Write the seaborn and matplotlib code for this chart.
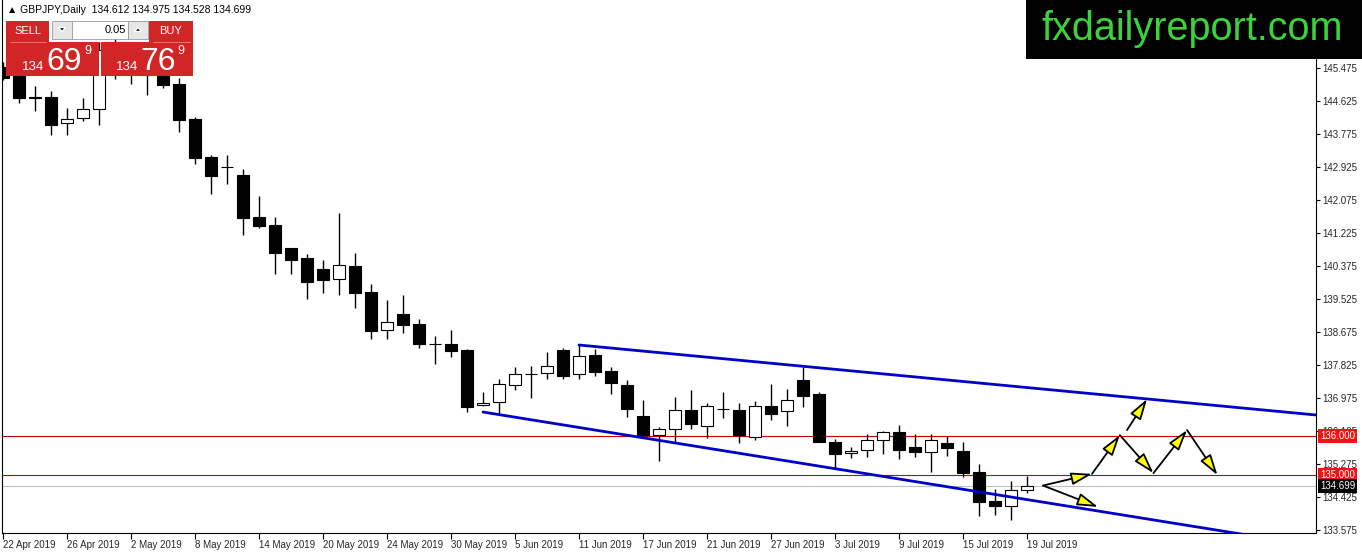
import matplotlib
matplotlib.use("Agg")
import matplotlib.pyplot as plt
import matplotlib.transforms as mtransforms
from matplotlib.patches import Rectangle, Polygon
import numpy as np
import pandas as pd
import seaborn as sns

# GBPJPY daily candles, 22 Apr - 19 Jul 2019
# (first bars are partly hidden under the trade panel, their tops are guessed)
opens = [145.501, 145.372, 144.740, 144.728, 144.058, 144.187, 144.419, 145.990, 145.400, 145.700,
         145.400, 145.063, 144.161, 143.183, 142.935, 142.719, 141.637, 141.431, 140.838, 140.581,
         140.297, 140.040, 140.375, 139.705, 138.726, 139.139, 138.881, 138.370, 138.366, 138.211,
         136.794, 136.872, 137.310, 137.600, 137.619, 138.211, 137.593, 138.082, 137.670, 137.310,
         136.511, 136.022, 136.176, 136.665, 136.253, 136.700, 136.665, 135.970, 136.768, 136.640,
         137.438, 137.078, 135.841, 135.558, 135.635, 135.893, 136.099, 135.712, 135.583, 135.815,
         135.609, 135.069, 134.322, 134.193, 134.612]
highs = [145.629, 145.526, 145.011, 144.883, 144.445, 144.702, 146.145, 146.248, 146.000, 145.950,
         145.550, 145.217, 144.213, 143.234, 143.234, 142.873, 142.178, 141.637, 140.850, 140.684,
         140.529, 141.740, 140.710, 139.911, 139.499, 139.628, 139.010, 138.572, 138.726, 138.237,
         137.129, 137.464, 137.773, 137.799, 138.160, 138.263, 138.340, 138.237, 137.773, 137.438,
         136.923, 136.230, 137.000, 137.181, 136.846, 137.129, 136.846, 136.897, 137.335, 137.207,
         137.773, 137.129, 135.918, 135.712, 136.048, 136.125, 136.280, 136.048, 136.048, 135.990,
         135.841, 135.275, 134.631, 134.837, 134.975]
lows = [145.166, 144.574, 144.367, 143.749, 143.749, 144.110, 144.007, 145.192, 145.063, 144.780,
        144.960, 143.826, 143.002, 142.230, 142.487, 141.173, 141.354, 140.169, 140.169, 139.525,
        139.679, 139.628, 139.293, 138.494, 138.494, 138.649, 138.263, 137.850, 138.031, 136.614,
        136.780, 136.562, 137.181, 136.975, 137.464, 137.464, 137.464, 137.541, 137.078, 136.485,
        135.944, 135.352, 135.815, 136.176, 135.944, 136.459, 135.815, 135.893, 136.408, 136.253,
        136.743, 135.841, 135.172, 135.429, 135.455, 135.532, 135.403, 135.455, 135.069, 135.480,
        134.940, 133.935, 133.961, 133.832, 134.528]
closes = [145.217, 144.702, 144.715, 144.007, 144.161, 144.419, 145.939, 145.526, 145.750, 145.300,
          145.037, 144.136, 143.157, 142.693, 142.915, 141.611, 141.405, 140.710, 140.529, 139.963,
          140.014, 140.400, 139.679, 138.700, 138.932, 138.855, 138.366, 138.360, 138.185, 136.743,
          136.846, 137.335, 137.593, 137.590, 137.799, 137.541, 138.057, 137.645, 137.361, 136.691,
          136.022, 136.176, 136.665, 136.305, 136.768, 136.685, 136.022, 136.768, 136.562, 136.923,
          137.026, 135.841, 135.532, 135.609, 135.893, 136.099, 135.635, 135.583, 135.893, 135.686,
          135.043, 134.296, 134.193, 134.605, 134.699]
dates = pd.bdate_range("2019-04-22", periods=len(opens))

price_ticks = [133.575, 134.425, 135.275, 136.125, 136.975, 137.825, 138.675, 139.525,
               140.375, 141.225, 142.075, 142.925, 143.775, 144.625, 145.475]

levels = [136.0, 135.0]
bid = 134.699

# channel anchors (bar, price)
upper_chan = [(36, 138.340), (82, 136.540)]
lower_chan = [(30, 136.614), (76.6, 133.523)]

# projected path arrows: (bar, price) -> (bar, price)
arrows = [
    ((65.0, 134.72), (68.06, 135.02)),
    ((65.0, 134.72), (68.44, 134.17)),
    ((68.06, 135.02), (69.8, 136.02)),
    ((70.25, 136.15), (71.5, 136.95)),
    ((69.8, 136.02), (71.9, 135.04)),
    ((71.9, 135.04), (74.0, 136.15)),
    ((74.0, 136.15), (75.9, 134.99)),
]

sns.set_style("white")
plt.rcParams['font.family'] = ['Liberation Sans', 'DejaVu Sans']

df = pd.DataFrame({"date": dates, "open": opens, "high": highs, "low": lows, "close": closes})
df["bar"] = np.arange(len(df))
up = df["close"] >= df["open"]
body_lo = df[["open", "close"]].min(axis=1)
body_h = (df["close"] - df["open"]).abs().clip(lower=0.004)

W, H = 1362, 553
fig = plt.figure(figsize=(W / 100, H / 100), dpi=100)
ax = fig.add_axes([2 / W, 20 / H, 1314 / W, 533 / H])

# horizontal levels and bid line
for lv in levels:
    ax.axhline(lv, color='#c80000', lw=0.8, zorder=1)
ax.axhline(bid, color='#c0c0c0', lw=0.8, zorder=1)

# candles
ax.vlines(df["bar"], df["low"], df["high"], color='black', lw=1.0, zorder=2)
ax.bar(df["bar"], body_h, bottom=body_lo, width=0.7,
       color=np.where(up, 'white', 'black'), edgecolor='black', linewidth=0.8, zorder=3)

# channel lines
for pts in (upper_chan, lower_chan):
    (x0, y0), (x1, y1) = pts
    k = (y1 - y0) / (x1 - x0)
    xs = np.array([x0, 95])
    sns.lineplot(x=xs, y=y0 + k * (xs - x0), ax=ax, color='#0000c8', lw=2.0, zorder=4)

# projection arrows
for (xa, ya), (xb, yb) in arrows:
    ax.annotate("", xy=(xb, yb), xytext=(xa, ya),
                arrowprops=dict(arrowstyle='-|>,head_length=0.9,head_width=0.27',
                                mutation_scale=14, fc='#ffff00', ec='black', lw=1.3,
                                shrinkA=0, shrinkB=0), zorder=5)

ax.set_xlim(-0.0625, 82.06)
ax.set_ylim(133.498, 147.2265)
ax.set_xlabel("")
ax.set_ylabel("")

ax.set_xticks(df["bar"][::4])
ax.set_xticklabels([f"{d.day} {d:%b %Y}" for d in df["date"][::4]], ha='left')
ax.yaxis.tick_right()
ax.set_yticks(price_ticks)
ax.set_yticklabels([f"{p:.3f}" for p in price_ticks])
ax.tick_params(axis='x', bottom=True, direction='out', length=4, width=0.8,
               color='black', labelsize=7, pad=1)
ax.tick_params(axis='y', right=True, left=False, labelright=True, labelleft=False,
               direction='out', length=3, width=0.8, color='black', labelsize=7, pad=1.5)
for s in ['left', 'bottom', 'right']:
    ax.spines[s].set_visible(True)
    ax.spines[s].set_color('black')
    ax.spines[s].set_linewidth(0.8)
ax.spines['top'].set_visible(False)

# price labels on the right axis
blend = mtransforms.blended_transform_factory(ax.transAxes, ax.transData)
for lv in levels:
    ax.text(1.003, lv, f"{lv:.3f}", transform=blend, ha='left', va='center', fontsize=7,
            color='white', clip_on=False, zorder=10,
            bbox=dict(boxstyle='square,pad=0.2', fc='#f01414', ec='none'))
ax.text(1.003, bid, f"{bid:.3f}", transform=blend, ha='left', va='center', fontsize=7,
        color='white', clip_on=False, zorder=10,
        bbox=dict(boxstyle='square,pad=0.2', fc='black', ec='none'))

# overlay in pixel coordinates: header, trade panel, watermark
ov = fig.add_axes([0, 0, 1, 1], zorder=20)
ov.set_xlim(0, W)
ov.set_ylim(H, 0)
ov.axis('off')


def box(x0, y0, x1, y1, fc, ec='none', lw=0):
    ov.add_patch(Rectangle((x0, y0), x1 - x0, y1 - y0, fc=fc, ec=ec, lw=lw))


ov.text(7, 10, "\u25b2 GBPJPY,Daily  134.612 134.975 134.528 134.699", fontsize=7.5,
        ha='left', va='center', color='black')

red = '#d22626'
box(6, 21, 49, 42, red)
box(149, 21, 193, 42, red)
box(6, 42, 99, 76, red)
box(101, 42, 193, 76, red)
ov.plot([10, 46], [41.5, 41.5], color='#ee8080', lw=0.6)
ov.plot([153, 190], [41.5, 41.5], color='#ee8080', lw=0.6)
box(52, 21, 72, 39, '#e6e6e6', ec='#9a9a9a', lw=0.6)
box(72, 21, 128, 39, 'white', ec='#9a9a9a', lw=0.6)
box(128, 21, 148, 39, '#e6e6e6', ec='#9a9a9a', lw=0.6)
ov.add_patch(Polygon([(58.5, 27.5), (65.5, 27.5), (62, 31.5)], closed=True, fc='black'))
ov.add_patch(Polygon([(134.5, 31.5), (141.5, 31.5), (138, 27.5)], closed=True, fc='black'))
ov.text(126, 30, "0.05", fontsize=8, ha='right', va='center', color='black')
ov.text(27.5, 31, "SELL", fontsize=8, ha='center', va='center', color='white')
ov.text(171, 31, "BUY", fontsize=8, ha='center', va='center', color='white')

ov.text(33, 70, "134", fontsize=9.5, ha='center', va='baseline', color='white')
ov.text(64, 70, "69", fontsize=23, ha='center', va='baseline', color='white')
ov.text(88, 54, "9", fontsize=9, ha='center', va='baseline', color='white')
ov.text(127, 70, "134", fontsize=9.5, ha='center', va='baseline', color='white')
ov.text(158, 70, "76", fontsize=23, ha='center', va='baseline', color='white')
ov.text(181, 54, "9", fontsize=9, ha='center', va='baseline', color='white')

box(1026, 0, W, 59, 'black')
ov.text(1192, 29, "fxdailyreport.com", fontsize=28.5, ha='center', va='center', color='#3cd23c')

fig.savefig("out.png", dpi=100)
